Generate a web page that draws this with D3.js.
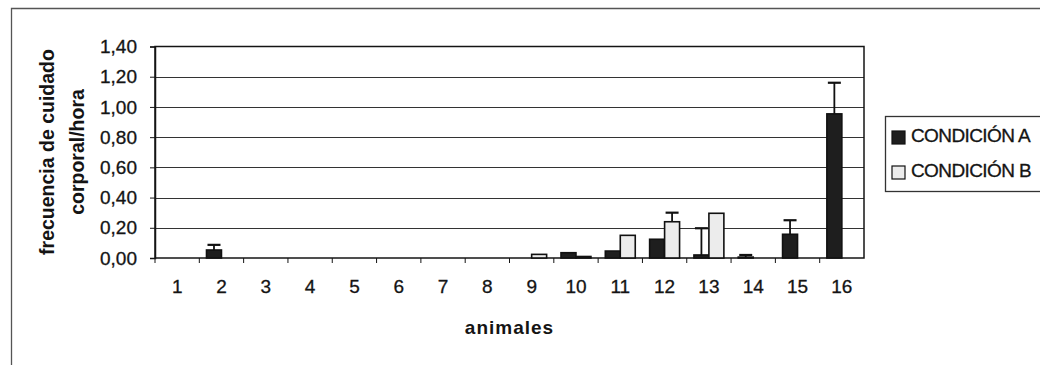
<!DOCTYPE html>
<html>
<head>
<meta charset="utf-8">
<script src="https://cdn.jsdelivr.net/npm/d3@7"></script>
<style>
  body { margin: 0; background: #fff; }
  svg { display: block; font-family: "Liberation Sans", Arial, sans-serif; }
</style>
</head>
<body>
<script>
// values
var animales = ["1","2","3","4","5","6","7","8","9","10","11","12","13","14","15","16"];
var condA = [0, 0.053, 0, 0, 0, 0, 0, 0, 0, 0.035, 0.046, 0.124, 0.02, 0.006, 0.157, 0.954];
var condB = [0, 0, 0, 0, 0, 0, 0, 0, 0.024, 0.01, 0.15, 0.24, 0.296, 0, 0, 0];
var errA  = [null, 0.087, null, null, null, null, null, null, null, null, null, null, 0.197, 0.02, 0.25, 1.16];
var errB  = [null, null, null, null, null, null, null, null, null, null, null, 0.30, null, null, null, null];
var yTicks = [0, 0.2, 0.4, 0.6, 0.8, 1.0, 1.2, 1.4];
var series = ["CONDICIÓN A", "CONDICIÓN B"];

var width = 1040, height = 365;
var plot = {left: 155, right: 864, top: 46.5, bottom: 258};
var fills = {"A": "#1e1e1e", "B": "#ececec"};
var ink = "#141414";

var svg = d3.select("body")
            .append("svg")
            .attr("width", width)
            .attr("height", height);

// outer frame (only left and top edges are visible)
svg.append("path")
   .attr("d", "M11.5,365 L11.5,8.5 L1040,8.5")
   .attr("fill", "none")
   .attr("stroke", "#555")
   .attr("stroke-width", 1.3);

// scales
var x = d3.scaleBand()
          .domain(animales)
          .range([plot.left, plot.right]);

var xSub = d3.scaleBand()
             .domain(["A", "B"])
             .range([0, x.bandwidth()])
             .paddingOuter(0.48);

var y = d3.scaleLinear()
          .domain([0, 1.4])
          .range([plot.bottom, plot.top]);

var fmt = function(d) { return d3.format(".2f")(d).replace(".", ","); };

// grid lines
svg.append("g")
   .selectAll("line")
   .data(yTicks.slice(1, -1))
   .enter().append("line")
   .attr("x1", plot.left)
   .attr("x2", plot.right)
   .attr("y1", function(d) { return Math.round(y(d)) + 0.5; })
   .attr("y2", function(d) { return Math.round(y(d)) + 0.5; })
   .attr("stroke", "#333")
   .attr("stroke-width", 1.2);

// plot border
svg.append("rect")
   .attr("x", plot.left)
   .attr("y", plot.top)
   .attr("width", plot.right - plot.left)
   .attr("height", plot.bottom - plot.top)
   .attr("fill", "none")
   .attr("stroke", ink)
   .attr("stroke-width", 1.5);

// y axis
var yAxis = svg.append("g")
   .attr("transform", "translate(" + plot.left + ",0)")
   .call(d3.axisLeft(y).tickValues(yTicks).tickFormat(fmt).tickSize(5).tickPadding(13));
yAxis.select(".domain").attr("stroke", ink).attr("stroke-width", 1.5);
yAxis.selectAll(".tick line").attr("stroke", ink);
yAxis.selectAll("text")
     .style("font-size", "19px")
     .style("font-family", "'Liberation Sans', Arial, sans-serif")
     .attr("fill", ink)
     .attr("stroke", ink)
     .attr("stroke-width", 0.3);

// x axis
var xAxis = svg.append("g")
   .attr("transform", "translate(0," + plot.bottom + ")")
   .call(d3.axisBottom(x).tickSize(0).tickPadding(22));
xAxis.select(".domain").remove();
xAxis.selectAll("text")
     .style("font-size", "19px")
     .style("font-family", "'Liberation Sans', Arial, sans-serif")
     .attr("fill", ink)
     .attr("stroke", ink)
     .attr("stroke-width", 0.3);

// x tick marks between categories
svg.append("g")
   .selectAll("line")
   .data(animales)
   .enter().append("line")
   .attr("x1", function(d) { return x(d); })
   .attr("x2", function(d) { return x(d); })
   .attr("y1", plot.bottom)
   .attr("y2", plot.bottom + 5)
   .attr("stroke", ink);

// bars
var rows = animales.map(function(a, i) {
  return [{cat: a, key: "A", v: condA[i], e: errA[i]},
          {cat: a, key: "B", v: condB[i], e: errB[i]}];
});

var groups = svg.append("g")
   .selectAll("g")
   .data(rows)
   .enter().append("g")
   .attr("transform", function(d) { return "translate(" + x(d[0].cat) + ",0)"; });

groups.selectAll("rect")
   .data(function(d) { return d.filter(function(b) { return b.v > 0; }); })
   .enter().append("rect")
   .attr("x", function(d) { return xSub(d.key); })
   .attr("y", function(d) { return y(d.v); })
   .attr("width", xSub.bandwidth())
   .attr("height", function(d) { return plot.bottom - y(d.v); })
   .attr("fill", function(d) { return fills[d.key]; })
   .attr("stroke", "#111")
   .attr("stroke-width", 1.6);

// error bars
var errs = groups.selectAll("g.err")
   .data(function(d) { return d.filter(function(b) { return b.e != null; }); })
   .enter().append("g")
   .attr("class", "err");

errs.append("line")
    .attr("x1", function(d) { return xSub(d.key) + xSub.bandwidth() / 2; })
    .attr("x2", function(d) { return xSub(d.key) + xSub.bandwidth() / 2; })
    .attr("y1", function(d) { return y(d.v); })
    .attr("y2", function(d) { return y(d.e); })
    .attr("stroke", "#111")
    .attr("stroke-width", 1.8);

errs.append("line")
    .attr("x1", function(d) { return xSub(d.key) + xSub.bandwidth() / 2 - 6.5; })
    .attr("x2", function(d) { return xSub(d.key) + xSub.bandwidth() / 2 + 6.5; })
    .attr("y1", function(d) { return y(d.e); })
    .attr("y2", function(d) { return y(d.e); })
    .attr("stroke", "#111")
    .attr("stroke-width", 2.2);

// axis titles
var yTitle = svg.append("text")
   .attr("transform", "translate(54,152) rotate(-90)")
   .attr("text-anchor", "middle")
   .style("font-size", "19.5px")
   .style("font-weight", "bold")
   .attr("fill", ink);
yTitle.append("tspan").attr("x", 0).attr("y", 0).text("frecuencia de cuidado");
yTitle.append("tspan").attr("x", 0).attr("y", 30).text("corporal/hora");

svg.append("text")
   .attr("x", (plot.left + plot.right) / 2)
   .attr("y", 334)
   .attr("text-anchor", "middle")
   .style("font-size", "19px")
   .style("font-weight", "bold")
   .style("letter-spacing", "1px")
   .attr("fill", ink)
   .text("animales");

// legend
var legend = svg.append("g").attr("transform", "translate(885,116)");
legend.append("rect")
      .attr("x", 0.5).attr("y", 0.5)
      .attr("width", 160).attr("height", 75)
      .attr("fill", "#fff")
      .attr("stroke", "#333")
      .attr("stroke-width", 1.3);

var items = legend.selectAll("g.item")
      .data(series)
      .enter().append("g")
      .attr("class", "item")
      .attr("transform", function(d, i) { return "translate(0," + (i * 35) + ")"; });

items.append("rect")
     .attr("x", 7).attr("y", 15)
     .attr("width", 13).attr("height", 13)
     .attr("fill", function(d, i) { return i === 0 ? fills.A : fills.B; })
     .attr("stroke", "#111")
     .attr("stroke-width", 1.2);

items.append("text")
     .attr("x", 26).attr("y", 26)
     .style("font-size", "19px")
     .style("letter-spacing", "-0.6px")
     .attr("fill", ink)
     .attr("stroke", ink)
     .attr("stroke-width", 0.3)
     .text(function(d) { return d; });
</script>
</body>
</html>
